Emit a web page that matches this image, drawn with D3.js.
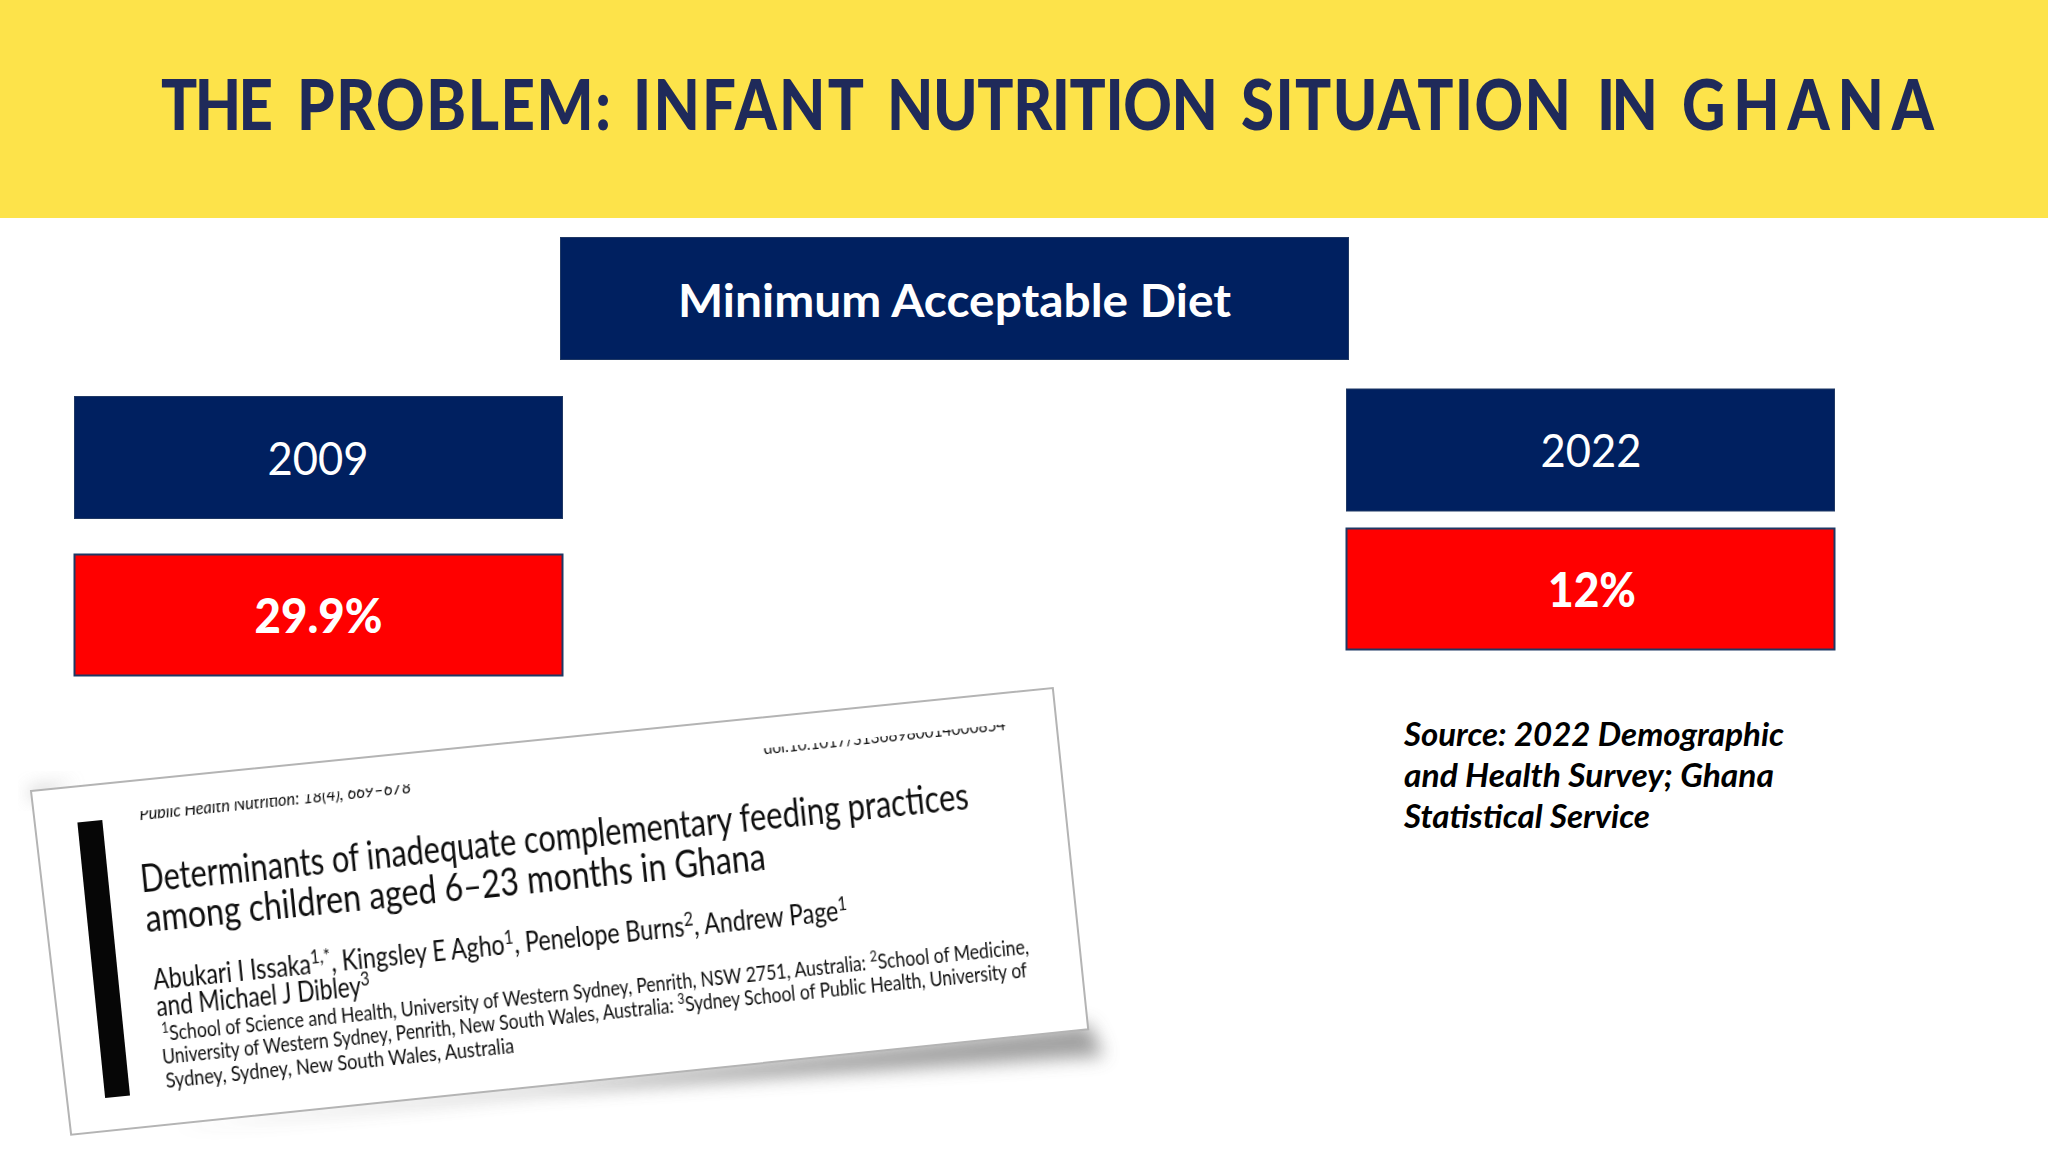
<!DOCTYPE html>
<html><head><meta charset="utf-8">
<script src="https://cdn.jsdelivr.net/npm/d3@7/dist/d3.min.js"></script>
<style>html,body{margin:0;padding:0;background:#fff}svg{display:block}text{font-family:Lato,sans-serif}</style>
</head><body><script>
const titleWords = ["THE","PROBLEM:","INFANT","NUTRITION","SITUATION","IN","GHANA"];
const titleStart = [161,297,633,887,1241,1597,1682];
const titleWidth = [112,314,231,331,330,61,252];
const headerText = "Minimum Acceptable Diet";
const years = ["2009", "2022"];
const values = ["29.9%", "12%"];
const sourceLines = ["Source: 2022 Demographic", "and Health Survey; Ghana", "Statistical Service"];
const paperTitle = ["Determinants of inadequate complementary feeding practices", "among children aged 6–23 months in Ghana"];
const paperAuthors = [[["Abukari I Issaka"],["1,*",1],[", Kingsley E Agho"],["1",1],[", Penelope Burns"],["2",1],[", Andrew Page"],["1",1]], [["and Michael J Dibley"],["3",1]]];
const paperAffil = [[["1",1],["School of Science and Health, University of Western Sydney, Penrith, NSW 2751, Australia: "],["2",1],["School of Medicine,"]],
  [["University of Western Sydney, Penrith, New South Wales, Australia: "],["3",1],["Sydney School of Public Health, University of"]],
  [["Sydney, Sydney, New South Wales, Australia"]]];
const paperJournal = "Public Health Nutrition: 18(4), 669–678";
const paperDoi = "doi:10.1017/S1368980014000854";

const svg = d3.select("body").append("svg").attr("width",2048).attr("height",1152);
const defs = svg.append("defs");
defs.append("filter").attr("id","blur").attr("x","-20%").attr("y","-60%").attr("width","140%").attr("height","220%")
  .append("feGaussianBlur").attr("stdDeviation",9);
defs.append("filter").attr("id","soft").append("feGaussianBlur").attr("stdDeviation",0.35);
defs.append("clipPath").attr("id","topclip").append("rect").attr("x",0).attr("y",31).attr("width",1027).attr("height",320);

const NAVY="#002060", RED="#ff0000", EDGE="#1f3864";
svg.append("rect").attr("width",2048).attr("height",218).attr("fill","#fde34a");
const TITLE_SIZE = 60;
const title = svg.append("text").attr("transform","translate(0,129.5) scale(1,1.16)").attr("font-size",TITLE_SIZE).attr("font-weight",900)
  .attr("fill","#1f2a5a");
titleWords.forEach((w,i)=>{
  const probe = svg.append("text").attr("font-size",TITLE_SIZE).attr("font-weight",900).text(w);
  const natural = probe.node().getComputedTextLength();
  probe.remove();
  title.append("tspan").text(i<titleWords.length-1 ? w+" " : w).attr("x",titleStart[i])
    .attr("letter-spacing",(titleWidth[i]-natural)/(w.length-1));
});

function box(x,y,w,h,fill,label,tx,tw,base,size,weight,sw){
  svg.append("rect").attr("x",x+0.5).attr("y",y+0.5).attr("width",w-1).attr("height",h-1).attr("fill",fill).attr("stroke",EDGE).attr("stroke-width",sw);
  svg.append("text").text(label).attr("x",tx).attr("y",base).attr("font-size",size).attr("font-weight",weight).attr("fill","#fff")
    .attr("textLength",tw).attr("lengthAdjust","spacingAndGlyphs");
}
box(560,237,789,123,NAVY,headerText,678,553,317,46,700,1);
const colX = d3.scaleOrdinal(years,[74,1346]);
const colW = 489;
const yearY = d3.scaleOrdinal(years,[396,388.5]);
const valY = d3.scaleOrdinal(years,[554,528]);
const yearTx = d3.scaleOrdinal(years,[267.5,1540.5]);
const yearBase = d3.scaleOrdinal(years,[474.5,467]);
const valTx = d3.scaleOrdinal(years,[254.5,1548]);
const valW = d3.scaleOrdinal(years,[128,88]);
const valBase = d3.scaleOrdinal(years,[632.5,606.5]);
years.forEach((yr,i)=>{
  box(colX(yr),yearY(yr),colW,123,NAVY,yr,yearTx(yr),101,yearBase(yr),47,400,1);
  box(colX(yr),valY(yr),colW,122,RED,values[i],valTx(yr),valW(yr),valBase(yr),48,900,2);
});
const srcW=[380,370,246];
svg.append("g").selectAll("text").data(sourceLines).join("text").text(d=>d)
  .attr("x",1404).attr("y",(d,i)=>746+i*41).attr("font-size",32).attr("font-weight",700).attr("font-style","italic")
  .attr("fill","#000").attr("textLength",(d,i)=>srcW[i]).attr("lengthAdjust","spacingAndGlyphs");

// shadow under the clipping
svg.append("path").attr("d",d3.line()([[170,1128],[1089,1024],[1104,1056],[540,1092]])+"Z")
  .attr("fill","#8f8f8f").attr("opacity",.85).attr("filter","url(#blur)");
svg.append("path").attr("d",d3.line()([[28,790],[75,782],[34,800]])+"Z").attr("fill","#999").attr("filter","url(#blur)").attr("opacity",.6);

const paper = svg.append("g").attr("transform","translate(31,791) rotate(-5.75)");
paper.append("path").attr("d",d3.line()([[0,0],[1027,0],[1028,343],[5.5,346]])+"Z").attr("fill","#fff").attr("stroke","#b4b4b4").attr("stroke-width",2);
paper.append("path").attr("d",d3.line()([[43,36],[68,36],[68,313],[43,313]])+"Z").attr("fill","#060606");

const body = paper.append("g").attr("filter","url(#soft)").attr("fill","#111");
function line(parent,segs,x,y,size,len){
  const t = parent.append("text").attr("x",x).attr("y",y).attr("font-size",size).attr("textLength",len).attr("lengthAdjust","spacingAndGlyphs");
  segs.forEach((s,i)=>{
    const sp = t.append("tspan").text(s[0]);
    if(s[1]){ sp.attr("font-size",size*0.7).attr("dy",-size*0.36); }
    else if(i>0 && segs[i-1][1]){ sp.attr("dy",size*0.36); }
  });
}
line(body,[[paperTitle[0]]],100,112,38,832);
line(body,[[paperTitle[1]]],101,152,38,623);
line(body,paperAuthors[0],102.5,210,28,698);
line(body,paperAuthors[1],103,237,28,215);
line(body,paperAffil[0],106,262,21.5,871);
line(body,paperAffil[1],104,285,21.5,869);
line(body,paperAffil[2],105,309,21.5,350);
const clipped = body.append("g").attr("clip-path","url(#topclip)");
clipped.append("text").text(paperJournal).attr("x",105.5).attr("y",40).attr("font-size",18).attr("font-style","italic").attr("textLength",273).attr("lengthAdjust","spacingAndGlyphs");
clipped.append("text").text(paperDoi).attr("x",733).attr("y",37).attr("font-size",18).attr("textLength",243).attr("lengthAdjust","spacingAndGlyphs");
</script></body></html>
